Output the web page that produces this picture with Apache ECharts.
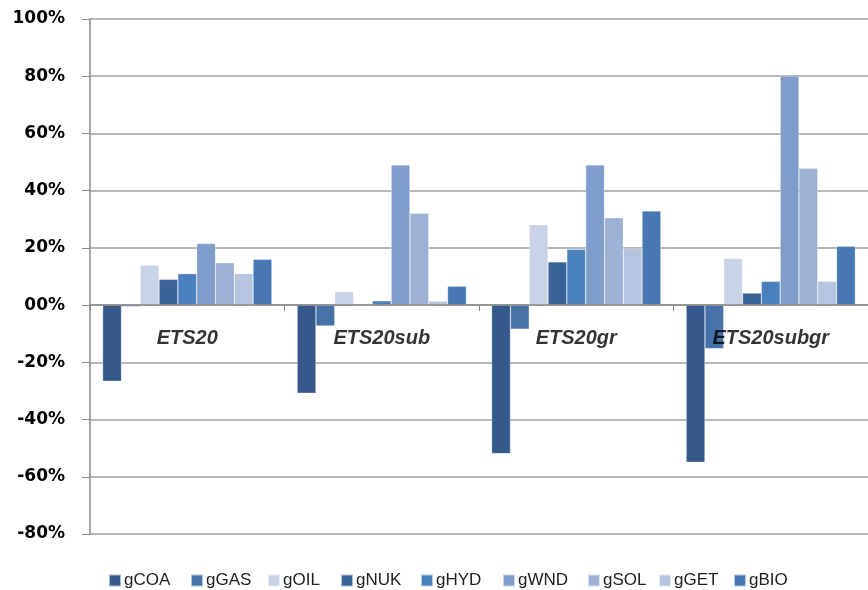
<!DOCTYPE html>
<html>
<head>
<meta charset="utf-8">
<script src="https://cdn.jsdelivr.net/npm/echarts@6/dist/echarts.min.js"></script>
<style>html,body{margin:0;padding:0;background:#fff}#c{width:868px;height:590px}</style>
</head>
<body>
<div id="c"></div>
<script>
var categories = ['ETS20', 'ETS20sub', 'ETS20gr', 'ETS20subgr'];
var seriesNames = ['gCOA', 'gGAS', 'gOIL', 'gNUK', 'gHYD', 'gWND', 'gSOL', 'gGET', 'gBIO'];
var gCOA = [-26.6, -30.8, -51.9, -54.9];
var gGAS = [-0.5, -7.3, -8.4, -15.2];
var gOIL = [14.0, 4.7, 28.1, 16.3];
var gNUK = [9.0, 0, 15.1, 4.2];
var gHYD = [11.0, 1.5, 19.5, 8.3];
var gWND = [21.5, 49.0, 49.0, 80.1];
var gSOL = [14.8, 32.1, 30.5, 47.8];
var gGET = [11.0, 1.4, 19.7, 8.3];
var gBIO = [16.0, 6.6, 32.9, 20.6];
var yTickLabels = {'100': '100%', '80': '80%', '60': '60%', '40': '40%', '20': '20%', '0': '00%',
  '-20': '-20%', '-40': '-40%', '-60': '-60%', '-80': '-80%'};

var seriesData = [gCOA, gGAS, gOIL, gNUK, gHYD, gWND, gSOL, gGET, gBIO];
var colors = ['#35598a', '#4672a8', '#c9d3e6', '#3a6397', '#4b80be', '#7f9ccb', '#9cb1d4', '#b7c4df', '#4878b4'];
var legendLefts = [108, 190, 267, 340, 420, 502, 587, 658, 733];

var chart = echarts.init(document.getElementById('c'), null, {renderer: 'canvas'});
var series = seriesNames.map(function (n, i) {
  return {
    name: n, type: 'bar', data: seriesData[i],
    barGap: '0%', barCategoryGap: '13%',
    itemStyle: {color: colors[i], borderColor: 'rgba(255,255,255,0.6)', borderWidth: 0.5},
    z: 2
  };
});
// category labels anchored at the zero line
series.push({
  name: 'catLabels', type: 'scatter', symbolSize: 0, silent: true, z: 20,
  data: categories.map(function (c) { return [c, 0]; }),
  label: {
    show: true, position: 'bottom', distance: 23,
    formatter: function (p) { return p.value[0]; },
    fontFamily: 'Liberation Sans', fontWeight: 'bold', fontStyle: 'italic', fontSize: 20, color: '#000'
  }
});
var legends = seriesNames.map(function (n, i) {
  return {
    data: [n], top: 572, left: legendLefts[i], icon: 'rect', itemWidth: 12, itemHeight: 12, itemGap: 0,
    padding: 0, textStyle: {fontFamily: 'Liberation Sans', fontSize: 17, color: '#222', padding: [0, 0, 0, -2]}
  };
});
chart.setOption({
  animation: false,
  color: colors,
  grid: {left: 90, right: 0, top: 19, bottom: 56, containLabel: false},
  xAxis: {
    type: 'category', data: categories, z: 10,
    axisLine: {onZero: true, lineStyle: {color: '#888888', width: 1.5}},
    axisTick: {show: true, alignWithLabel: false, length: 6, lineStyle: {color: '#888888'}},
    axisLabel: {show: false},
    splitLine: {show: false}
  },
  yAxis: {
    type: 'value', min: -80, max: 100, interval: 20,
    axisLine: {show: true, lineStyle: {color: '#888888', width: 1.5}},
    axisTick: {show: true, length: 8, lineStyle: {color: '#888888'}},
    axisLabel: {margin: 25, fontFamily: 'DejaVu Sans', fontWeight: 'bold', fontSize: 17, color: '#000',
      formatter: function (v) { return yTickLabels[String(v)]; }},
    splitLine: {show: true, lineStyle: {color: '#a0a0a0', width: 1.5}}
  },
  legend: legends,
  series: series
});
</script>
</body>
</html>
